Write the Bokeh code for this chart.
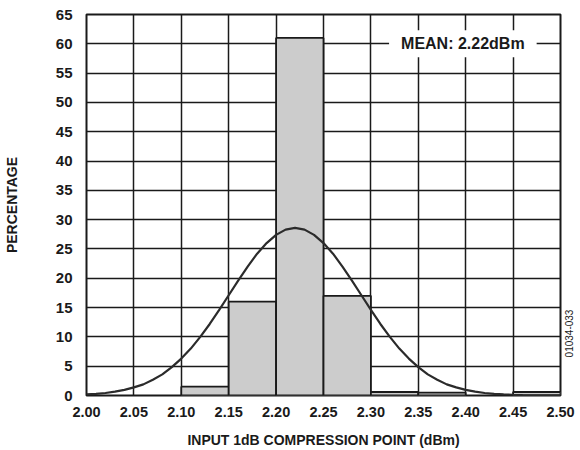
import math
from bokeh.plotting import figure
from bokeh.models import Label, FixedTicker, Range1d, LinearAxis
from bokeh.embed import file_html
from bokeh.resources import INLINE

# Histogram bins (left edges, right edges) and percentages
bin_left = [2.10, 2.15, 2.20, 2.25, 2.30, 2.35, 2.45]
bin_right = [2.15, 2.20, 2.25, 2.30, 2.35, 2.40, 2.50]
percentage = [1.5, 16, 61, 17, 0.6, 0.5, 0.6]

# Normal fit curve
curve_x = [2.00, 2.01, 2.02, 2.03, 2.04, 2.05, 2.06, 2.07, 2.08, 2.09,
           2.10, 2.11, 2.12, 2.13, 2.14, 2.15, 2.16, 2.17, 2.18, 2.19,
           2.20, 2.21, 2.22, 2.23, 2.24, 2.25, 2.26, 2.27, 2.28, 2.29,
           2.30, 2.31, 2.32, 2.33, 2.34, 2.35, 2.36, 2.37, 2.38, 2.39,
           2.40, 2.41, 2.42, 2.43, 2.44, 2.45, 2.46, 2.47, 2.48, 2.49, 2.50]
curve_y = [0.18, 0.28, 0.43, 0.65, 0.95, 1.38, 1.9, 2.7, 3.6, 4.85,
           6.3, 8.0, 10.0, 12.2, 14.6, 17.1, 19.6, 22.0, 24.2, 26.0,
           27.4, 28.3, 28.6, 28.3, 27.4, 26.0, 24.2, 22.0, 19.6, 17.1,
           14.6, 12.2, 10.0, 8.0, 6.3, 4.85, 3.6, 2.7, 1.9, 1.38,
           0.95, 0.65, 0.43, 0.28, 0.18, 0.11, 0.07, 0.04, 0.02, 0.013, 0.01]

x_ticks = [2.00, 2.05, 2.10, 2.15, 2.20, 2.25, 2.30, 2.35, 2.40, 2.45, 2.50]
x_tick_labels = ["2.00", "2.05", "2.10", "2.15", "2.20", "2.25", "2.30",
                 "2.35", "2.40", "2.45", "2.50"]
y_ticks = [0, 5, 10, 15, 20, 25, 30, 35, 40, 45, 50, 55, 60, 65]

FONT = "Liberation Sans"
INK = "#1a1a1a"

p = figure(width=580, height=450, output_backend="svg", toolbar_location=None,
           x_range=Range1d(2.0, 2.5), y_range=Range1d(0, 65),
           min_border_left=84, min_border_right=19, min_border_top=14,
           min_border_bottom=54)

p.outline_line_color = INK
p.outline_line_width = 2
p.background_fill_color = "white"
p.border_fill_color = "white"

p.xaxis.ticker = FixedTicker(ticks=x_ticks)
p.yaxis.ticker = FixedTicker(ticks=y_ticks)
p.xaxis.major_label_overrides = {t: l for t, l in zip(x_ticks, x_tick_labels)}

for ax in (p.xaxis[0], p.yaxis[0]):
    ax.axis_line_color = None
    ax.major_tick_line_color = None
    ax.minor_tick_line_color = None
    ax.major_label_text_font = FONT
    ax.major_label_text_font_style = "bold"
    ax.major_label_text_color = INK
    ax.axis_label_text_font = FONT
    ax.axis_label_text_font_style = "bold"
    ax.axis_label_text_font_size = "14px"
    ax.axis_label_text_color = INK

p.xaxis.major_label_text_font_size = "14.5px"
p.yaxis.major_label_text_font_size = "15px"
p.xaxis.axis_label = "INPUT 1dB COMPRESSION POINT (dBm)"
p.yaxis.axis_label = "PERCENTAGE"
p.xaxis.major_label_standoff = 5
p.xaxis.axis_label_standoff = 12
p.yaxis.major_label_standoff = 8
p.yaxis.axis_label_standoff = 33

p.xgrid.grid_line_color = INK
p.ygrid.grid_line_color = INK
p.xgrid.grid_line_width = 1.5
p.ygrid.grid_line_width = 1.5

p.quad(left=bin_left, right=bin_right, bottom=0, top=percentage,
       fill_color="#cccccc", line_color=INK, line_width=1.8)

p.line(curve_x, curve_y, line_color="#2b2b2b", line_width=2.2)

mean_label = Label(x=2.397, y=60, text="MEAN: 2.22dBm",
                   text_align="center", text_baseline="middle",
                   text_font=FONT, text_font_style="bold",
                   text_font_size="16px", text_color=INK,
                   background_fill_color="white",
                   padding=dict(left=12, right=12, top=5, bottom=5))
p.add_layout(mean_label)

# Figure code printed vertically at the right edge
code_pos = 6.5
code_axis = LinearAxis(ticker=FixedTicker(ticks=[code_pos]),
                       major_label_overrides={code_pos: "01034-033"},
                       major_label_orientation=math.pi / 2,
                       major_label_text_font=FONT,
                       major_label_text_font_size="10px",
                       major_label_text_color=INK,
                       major_label_standoff=3,
                       axis_line_color=None,
                       major_tick_line_color=None,
                       minor_tick_line_color=None)
p.add_layout(code_axis, "right")

open("out.html", "w").write(file_html(p, INLINE))
